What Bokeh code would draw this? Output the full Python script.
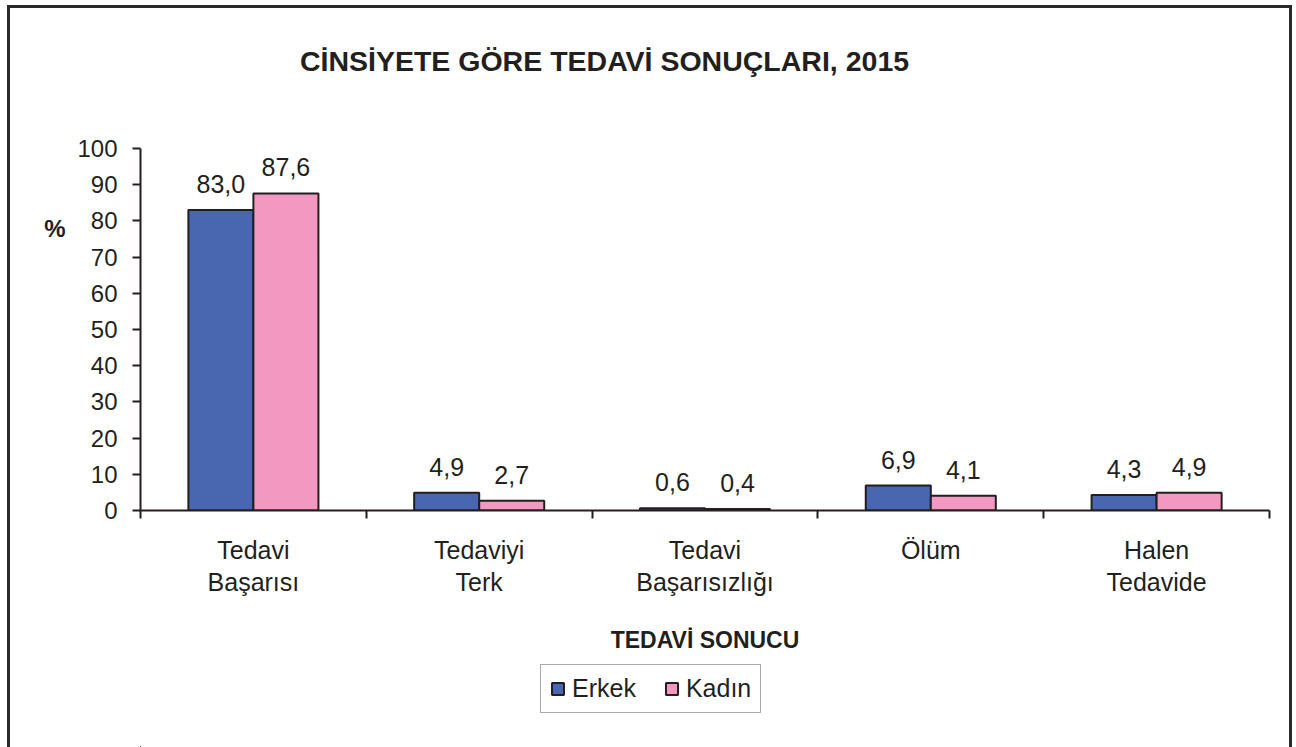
from bokeh.plotting import figure
from bokeh.layouts import column
from bokeh.models import (ColumnDataSource, Range1d, FixedTicker, LabelSet, LinearAxis,
                          Legend, LegendItem)
from bokeh.transform import dodge
from bokeh.core.properties import value
from bokeh.embed import file_html
from bokeh.resources import INLINE

# ---- data ----
categories = ["Tedavi\nBaşarısı", "Tedaviyi\nTerk", "Tedavi\nBaşarısızlığı", "Ölüm", "Halen\nTedavide"]
erkek = [83.0, 4.9, 0.6, 6.9, 4.3]
kadin = [87.6, 2.7, 0.4, 4.1, 4.9]
y_ticks = [0, 10, 20, 30, 40, 50, 60, 70, 80, 90, 100]
title_text = "CİNSİYETE GÖRE TEDAVİ SONUÇLARI, 2015"
x_title = "TEDAVİ SONUCU"
y_title = "%"
series_names = ["Erkek", "Kadın"]

# ---- styles ----
BLUE = "#4967b0"
PINK = "#f398c1"
DARK = "#231f20"
FONT = "Liberation Sans"
BAR_W = 0.288
PCT_Y = 78       # vertical position of the "%" label, in axis units
TITLE_X = 2.055  # horizontal centre of the title, in axis units
BORDER = "3px solid #2a2a2a"

def fmt(v):
    return f"{v:.1f}".replace(".", ",")

n = len(categories)
xc = [i + 0.5 for i in range(n)]
src = ColumnDataSource(dict(
    xc=xc, erkek=erkek, kadin=kadin,
    erkek_lbl=[fmt(v) for v in erkek], kadin_lbl=[fmt(v) for v in kadin],
))

p = figure(width=1285, height=655, output_backend="svg", toolbar_location=None,
           x_range=Range1d(0, n), y_range=Range1d(0, 100),
           min_border_left=130, min_border_right=26, min_border_top=140,
           min_border_bottom=153)
p.title = None
p.styles = {"border-top": BORDER, "border-left": BORDER, "border-right": BORDER}
p.outline_line_color = None
p.grid.visible = False
p.background_fill_color = "white"
p.border_fill_color = "white"

# keep handles on the default axes before any extra axis is added
xa = p.below[0]
ya = p.left[0]

r1 = p.vbar(x=dodge("xc", -BAR_W / 2, range=p.x_range), top="erkek", width=BAR_W, source=src,
            fill_color=BLUE, line_color=DARK, line_width=2)
r2 = p.vbar(x=dodge("xc", BAR_W / 2, range=p.x_range), top="kadin", width=BAR_W, source=src,
            fill_color=PINK, line_color=DARK, line_width=2)

for col, off in (("erkek", -BAR_W / 2), ("kadin", BAR_W / 2)):
    p.add_layout(LabelSet(x=dodge("xc", off, range=p.x_range), y=col, text=col + "_lbl",
                          source=src, y_offset=17, text_align="center",
                          text_baseline="alphabetic", text_font=value(FONT),
                          text_font_size="25px", text_color=DARK))

# y axis
ya.ticker = FixedTicker(ticks=y_ticks, minor_ticks=[])
ya.major_tick_out = 8
ya.major_tick_in = 0
ya.axis_line_color = DARK
ya.axis_line_width = 2
ya.major_tick_line_color = DARK
ya.major_tick_line_width = 2
ya.major_label_text_font = FONT
ya.major_label_text_font_size = "24px"
ya.major_label_text_color = DARK
ya.major_label_standoff = 15

# x axis
xa.ticker = FixedTicker(ticks=xc, minor_ticks=list(range(n + 1)))
xa.major_label_overrides = {x: c for x, c in zip(xc, categories)}
xa.major_tick_line_color = None
xa.major_tick_out = 8
xa.minor_tick_out = 8
xa.minor_tick_in = 0
xa.minor_tick_line_color = DARK
xa.minor_tick_line_width = 2
xa.axis_line_color = DARK
xa.axis_line_width = 2
xa.major_label_text_font = FONT
xa.major_label_text_font_size = "25px"
xa.major_label_text_color = DARK
xa.major_label_text_line_height = 1.15
xa.major_label_standoff = 17
xa.axis_label = x_title
xa.axis_label_text_font = FONT
xa.axis_label_text_font_style = "bold"
xa.axis_label_text_font_size = "23px"
xa.axis_label_text_color = DARK
xa.axis_label_standoff = 28

# title, drawn as the single label of a line-less top axis
ta = LinearAxis(ticker=FixedTicker(ticks=[TITLE_X], minor_ticks=[]),
                major_label_overrides={TITLE_X: title_text},
                axis_line_color=None, major_tick_line_color=None, minor_tick_line_color=None,
                major_tick_out=0, major_tick_in=0, minor_tick_out=0, minor_tick_in=0,
                major_label_standoff=72, major_label_text_font=FONT,
                major_label_text_font_style="bold", major_label_text_font_size="28.5px",
                major_label_text_color=DARK)
p.add_layout(ta, "above")

# "%" label as an extra, line-less left axis
pa = LinearAxis(ticker=FixedTicker(ticks=[PCT_Y], minor_ticks=[]),
                major_label_overrides={PCT_Y: y_title},
                axis_line_color=None, major_tick_line_color=None, minor_tick_line_color=None,
                major_tick_out=0, major_tick_in=0, minor_tick_out=0, minor_tick_in=0,
                major_label_standoff=9, major_label_text_font=FONT,
                major_label_text_font_style="bold", major_label_text_font_size="24px",
                major_label_text_color=DARK)
p.add_layout(pa, "left")

# ---- legend strip below the chart (its frame is aligned with the chart's frame) ----
lf = figure(width=1285, height=87, output_backend="svg", toolbar_location=None,
            x_axis_location=None, y_axis_location=None,
            x_range=Range1d(1000, 1001), y_range=Range1d(1000, 1001),
            min_border=0, min_border_left=0, min_border_right=0,
            min_border_top=0, min_border_bottom=0)
lf.title = None
lf.styles = {"border-left": BORDER, "border-right": BORDER}
lf.outline_line_color = None
lf.grid.visible = False
lf.background_fill_color = "white"
lf.border_fill_color = "white"
# same series, kept out of view: they only feed the legend swatches
l1 = lf.vbar(x="xc", top="erkek", width=0.1, source=src,
             fill_color=BLUE, line_color=DARK, line_width=2)
l2 = lf.vbar(x="xc", top="kadin", width=0.1, source=src,
             fill_color=PINK, line_color=DARK, line_width=2)

legend = Legend(items=[LegendItem(label=series_names[0], renderers=[l1]),
                       LegendItem(label=series_names[1], renderers=[l2])],
                location=(400, 34), orientation="horizontal",
                label_text_font=FONT, label_text_font_size="25px", label_text_color=DARK,
                glyph_width=15, glyph_height=15, label_standoff=7, spacing=28,
                padding=9, margin=0,
                border_line_color="#555555", border_line_width=1.5,
                background_fill_color="white", background_fill_alpha=1)
lf.add_layout(legend, "center")

layout = column(p, lf, spacing=0)
layout.styles = {"margin-top": "5px", "margin-left": "7px"}

open("out.html", "w").write(file_html(layout, INLINE))
